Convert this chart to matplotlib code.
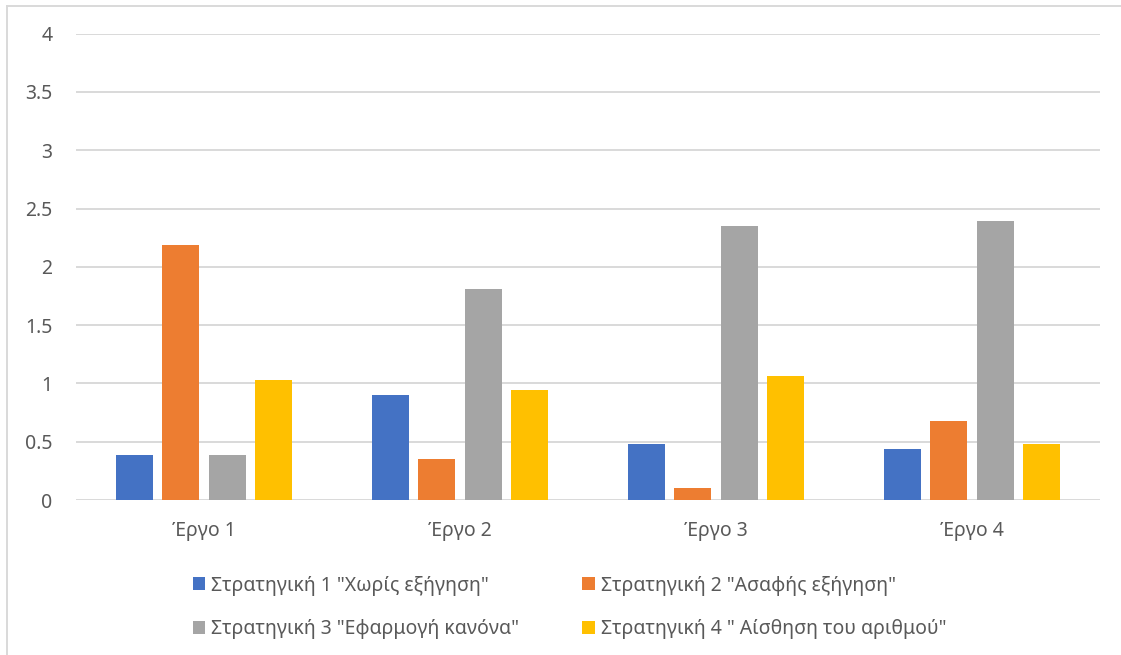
import matplotlib
matplotlib.use("Agg")
import matplotlib.pyplot as plt
from matplotlib.patches import Patch
from matplotlib.lines import Line2D
import numpy as np

plt.rcParams['font.family'] = ['Noto Sans', 'DejaVu Sans']

categories = ["Έργο 1", "Έργο 2", "Έργο 3", "Έργο 4"]
series_names = [
    'Στρατηγική 1 "Χωρίς εξήγηση"',
    'Στρατηγική 2 "Ασαφής εξήγηση"',
    'Στρατηγική 3 "Εφαρμογή κανόνα"',
    'Στρατηγική 4 " Αίσθηση του αριθμού"',
]
strategy1 = [0.39, 0.90, 0.48, 0.44]
strategy2 = [2.19, 0.35, 0.10, 0.68]
strategy3 = [0.39, 1.81, 2.35, 2.39]
strategy4 = [1.03, 0.94, 1.06, 0.48]
colors = ["#4472C4", "#ED7D31", "#A5A5A5", "#FFC000"]
yticks = [0, 0.5, 1, 1.5, 2, 2.5, 3, 3.5, 4]

W, H = 1121, 655
fig = plt.figure(figsize=(W / 100, H / 100), dpi=100)
ax = fig.add_axes((76 / W, (H - 500) / H, (1100 - 76) / W, (500 - 33.7) / H))

text_color = "#595959"
grid_color = "#D9D9D9"

x = np.arange(len(categories))
bar_w = 0.1445
pitch = 0.1816
for i, vals in enumerate([strategy1, strategy2, strategy3, strategy4]):
    ax.bar(x + (i - 1.5) * pitch, vals, width=bar_w, color=colors[i],
           zorder=3, linewidth=0)

ax.set_xlim(-0.5, 3.5)
ax.set_ylim(0, 4)
ax.set_yticks(yticks)
ax.set_yticklabels([f"{t:g}" for t in yticks])
ax.set_xticks(x)
ax.set_xticklabels(categories)
ax.tick_params(axis="both", length=0, labelsize=14, labelcolor=text_color)
ax.tick_params(axis="y", pad=17)
ax.tick_params(axis="x", pad=15)
ax.yaxis.grid(True, color=grid_color, linewidth=1.4, zorder=0)
for s in ax.spines.values():
    s.set_visible(False)

# legend fills column-wise, so reorder to get row-wise order like Excel
order = [0, 2, 1, 3]
handles = [Patch(facecolor=colors[i], edgecolor="none") for i in order]
labels = [series_names[i] for i in order]
fig.legend(handles, labels, ncol=2, loc="upper left",
           bbox_to_anchor=(183 / W, (H - 566) / H), frameon=False,
           fontsize=14, labelcolor=text_color, handlelength=0.65,
           handleheight=0.65, handletextpad=0.3, columnspacing=3.25,
           labelspacing=1.2, borderpad=0)

# chart area border (top and left edges visible)
fig.add_artist(Line2D([7 / W, 1], [(H - 5.7) / H, (H - 5.7) / H],
                      color=grid_color, linewidth=1.4))
fig.add_artist(Line2D([7.3 / W, 7.3 / W], [0, (H - 5.7) / H],
                      color=grid_color, linewidth=1.4))

fig.savefig("out.png", dpi=100)
